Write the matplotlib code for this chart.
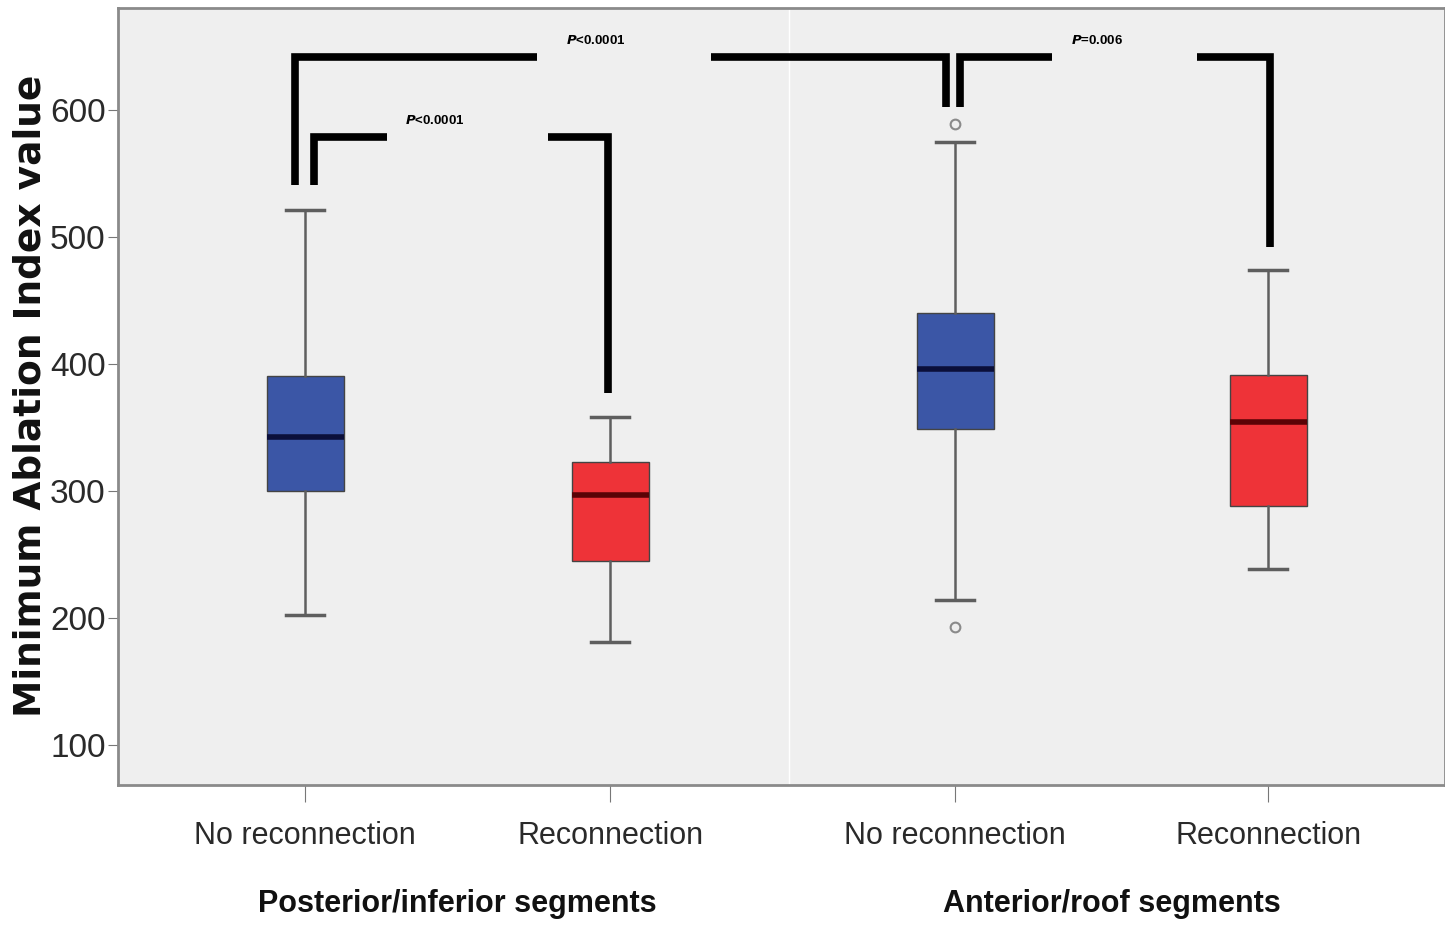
import matplotlib
matplotlib.use("Agg")
import matplotlib.pyplot as plt

# Données (valeurs de l'Ablation Index)
categories = ["No reconnection", "Reconnection", "No reconnection", "Reconnection"]
groupes = ["Posterior/inferior segments", "Anterior/roof segments"]
whisker_bas = [202, 181, 214, 238]
q1 = [300, 245, 349, 288]
mediane = [342, 297, 396, 354]
q3 = [390, 323, 440, 391]
whisker_haut = [521, 358, 575, 474]
outliers = [[], [], [589, 193], []]
couleurs = ["#3B56A6", "#EE3338", "#3B56A6", "#EE3338"]
couleurs_med = ["#0B0F3A", "#5A0306", "#0B0F3A", "#5A0306"]

# Comparaisons (texte des p-values)
p_textes = ["<0.0001", "<0.0001", "=0.006"]

positions = [0.141, 0.371, 0.631, 0.867]

fig = plt.figure(figsize=(14.45, 9.26), dpi=100)
ax = fig.add_axes([0.0817, 0.152, 0.918, 0.839])
ax.set_facecolor("#EFEFEF")

stats = []
for i in range(len(categories)):
    stats.append({
        "whislo": whisker_bas[i], "q1": q1[i], "med": mediane[i],
        "q3": q3[i], "whishi": whisker_haut[i], "fliers": outliers[i],
    })

bp = ax.bxp(stats, positions=positions, widths=0.058, patch_artist=True,
            showfliers=True, manage_ticks=False,
            whiskerprops=dict(color="#5e5e5e", linewidth=1.8),
            capprops=dict(color="#5e5e5e", linewidth=2.5),
            flierprops=dict(marker="o", markerfacecolor="none",
                            markeredgecolor="#8a8a8a", markersize=7,
                            markeredgewidth=1.5))
for i, box in enumerate(bp["boxes"]):
    box.set_facecolor(couleurs[i])
    box.set_edgecolor("#444444")
    box.set_linewidth(1)
for i, med in enumerate(bp["medians"]):
    med.set_color(couleurs_med[i])
    med.set_linewidth(4)
for cap in bp["caps"]:
    x0, x1 = cap.get_xdata()
    c = (x0 + x1) / 2
    cap.set_xdata([c - 0.0145, c + 0.0145])

ax.axvline(0.506, color="white", linewidth=1)

# Crochets de significativité (x en fraction d'axe)
x_gauche = [0.1334, 0.1477, 0.6345]
x_droite = [0.6240, 0.3693, 0.8681]
trou_debut = [0.3157, 0.2027, 0.7038]
trou_fin = [0.4469, 0.3240, 0.8131]
x_texte = [0.3602, 0.2389, 0.7378]
hauteurs = [642, 579, 642]
pieds_gauche = [541, 541, 602]
pieds_droite = [602, 377, 492]
for k in range(len(p_textes)):
    h = hauteurs[k]
    ax.plot([x_gauche[k], x_gauche[k], trou_debut[k]], [pieds_gauche[k], h, h],
            color="black", linewidth=5.5, solid_joinstyle="miter",
            solid_capstyle="butt")
    ax.plot([trou_fin[k], x_droite[k], x_droite[k]], [h, h, pieds_droite[k]],
            color="black", linewidth=5.5, solid_joinstyle="miter",
            solid_capstyle="butt")
    ax.text(x_texte[k], h + 13, r"$\mathbfit{P}$" + p_textes[k], ha="center",
            va="center", fontsize=9.5, fontweight="bold",
            family="Liberation Sans")

ax.set_xlim(0, 1)
ax.set_ylim(68, 680)
ax.set_yticks([100, 200, 300, 400, 500, 600])
ax.set_xticks(positions)
ax.set_xticklabels(categories)
ax.tick_params(axis="y", labelsize=24, length=7, color="#777777", pad=2)
ax.tick_params(axis="x", labelsize=22, length=12, color="#777777", pad=14)
for lab in ax.get_xticklabels() + ax.get_yticklabels():
    lab.set_family("Liberation Sans")
    lab.set_color("#2a2a2a")

for s in ["left", "bottom", "top", "right"]:
    ax.spines[s].set_color("#8a8a8a")
    ax.spines[s].set_linewidth(2)

for j, g in enumerate(groupes):
    xc = (positions[2 * j] + positions[2 * j + 1]) / 2
    ax.text(xc, -0.153, g, transform=ax.get_xaxis_transform(), ha="center",
            va="center", fontsize=22, fontweight="bold",
            family="Liberation Sans", color="#111111")

fig.text(0.021, 0.573, "Minimum Ablation Index value", rotation=90,
         ha="center", va="center", fontsize=27, fontweight="bold",
         family="DejaVu Sans", color="#111111")

fig.savefig("out.png", dpi=100)
